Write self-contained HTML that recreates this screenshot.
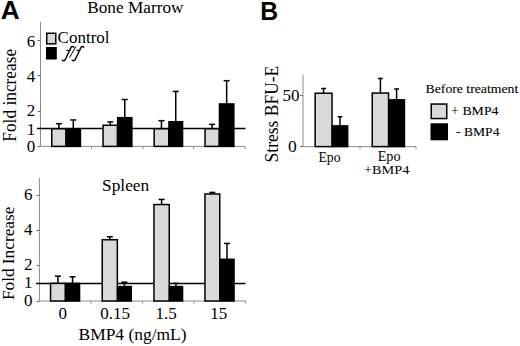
<!DOCTYPE html>
<html><head><meta charset="utf-8"><style>
html,body{margin:0;padding:0;background:#fff;}
body{width:520px;height:346px;overflow:hidden;font-family:"Liberation Serif", serif;}
svg{display:block;}
</style></head><body>
<svg width="520" height="346" viewBox="0 0 520 346">
<rect width="520" height="346" fill="#fff"/>
<line x1="40.50" y1="22.00" x2="40.50" y2="146.40" stroke="#8a8a8a" stroke-width="1"/>
<line x1="40.50" y1="146.40" x2="245.00" y2="146.40" stroke="#8a8a8a" stroke-width="1"/>
<line x1="37.50" y1="146.50" x2="40.50" y2="146.50" stroke="#6a6a6a" stroke-width="1"/>
<line x1="37.50" y1="128.50" x2="40.50" y2="128.50" stroke="#6a6a6a" stroke-width="1"/>
<line x1="37.50" y1="111.50" x2="40.50" y2="111.50" stroke="#6a6a6a" stroke-width="1"/>
<line x1="37.50" y1="75.50" x2="40.50" y2="75.50" stroke="#6a6a6a" stroke-width="1"/>
<line x1="37.50" y1="40.50" x2="40.50" y2="40.50" stroke="#6a6a6a" stroke-width="1"/>
<line x1="91.50" y1="146.40" x2="91.50" y2="148.90" stroke="#8a8a8a" stroke-width="1"/>
<line x1="143.00" y1="146.40" x2="143.00" y2="148.90" stroke="#8a8a8a" stroke-width="1"/>
<line x1="193.60" y1="146.40" x2="193.60" y2="148.90" stroke="#8a8a8a" stroke-width="1"/>
<line x1="245.00" y1="146.40" x2="245.00" y2="148.90" stroke="#8a8a8a" stroke-width="1"/>
<line x1="37.00" y1="128.58" x2="245.50" y2="128.58" stroke="#000" stroke-width="1.5"/>
<line x1="58.85" y1="128.78" x2="58.85" y2="123.67" stroke="#000" stroke-width="1.5"/>
<line x1="55.85" y1="123.67" x2="61.85" y2="123.67" stroke="#000" stroke-width="1.5"/>
<line x1="73.30" y1="128.78" x2="73.30" y2="119.97" stroke="#000" stroke-width="1.5"/>
<line x1="70.30" y1="119.97" x2="76.30" y2="119.97" stroke="#000" stroke-width="1.5"/>
<rect x="51.75" y="128.78" width="14.20" height="17.62" fill="#d9d9d9" stroke="#000" stroke-width="1.5"/>
<rect x="65.40" y="128.03" width="15.80" height="19.12" fill="#000"/>
<line x1="110.25" y1="125.26" x2="110.25" y2="121.91" stroke="#000" stroke-width="1.5"/>
<line x1="107.25" y1="121.91" x2="113.25" y2="121.91" stroke="#000" stroke-width="1.5"/>
<line x1="124.75" y1="117.68" x2="124.75" y2="99.53" stroke="#000" stroke-width="1.5"/>
<line x1="121.75" y1="99.53" x2="127.75" y2="99.53" stroke="#000" stroke-width="1.5"/>
<rect x="103.05" y="125.26" width="14.40" height="21.14" fill="#d9d9d9" stroke="#000" stroke-width="1.5"/>
<rect x="116.90" y="116.93" width="15.70" height="30.22" fill="#000"/>
<line x1="161.45" y1="128.78" x2="161.45" y2="120.67" stroke="#000" stroke-width="1.5"/>
<line x1="158.45" y1="120.67" x2="164.45" y2="120.67" stroke="#000" stroke-width="1.5"/>
<line x1="175.75" y1="121.73" x2="175.75" y2="91.43" stroke="#000" stroke-width="1.5"/>
<line x1="172.75" y1="91.43" x2="178.75" y2="91.43" stroke="#000" stroke-width="1.5"/>
<rect x="154.15" y="128.78" width="14.60" height="17.62" fill="#d9d9d9" stroke="#000" stroke-width="1.5"/>
<rect x="168.20" y="120.98" width="15.10" height="26.17" fill="#000"/>
<line x1="212.15" y1="128.78" x2="212.15" y2="124.38" stroke="#000" stroke-width="1.5"/>
<line x1="209.15" y1="124.38" x2="215.15" y2="124.38" stroke="#000" stroke-width="1.5"/>
<line x1="226.65" y1="103.94" x2="226.65" y2="80.68" stroke="#000" stroke-width="1.5"/>
<line x1="223.65" y1="80.68" x2="229.65" y2="80.68" stroke="#000" stroke-width="1.5"/>
<rect x="205.05" y="128.78" width="14.20" height="17.62" fill="#d9d9d9" stroke="#000" stroke-width="1.5"/>
<rect x="218.70" y="103.19" width="15.90" height="43.96" fill="#000"/>
<line x1="39.40" y1="178.00" x2="39.40" y2="301.00" stroke="#8a8a8a" stroke-width="1"/>
<line x1="39.40" y1="301.00" x2="245.50" y2="301.00" stroke="#8a8a8a" stroke-width="1"/>
<line x1="36.40" y1="301.50" x2="39.40" y2="301.50" stroke="#6a6a6a" stroke-width="1"/>
<line x1="36.40" y1="283.50" x2="39.40" y2="283.50" stroke="#6a6a6a" stroke-width="1"/>
<line x1="36.40" y1="265.50" x2="39.40" y2="265.50" stroke="#6a6a6a" stroke-width="1"/>
<line x1="36.40" y1="230.50" x2="39.40" y2="230.50" stroke="#6a6a6a" stroke-width="1"/>
<line x1="36.40" y1="195.50" x2="39.40" y2="195.50" stroke="#6a6a6a" stroke-width="1"/>
<line x1="91.00" y1="301.00" x2="91.00" y2="303.50" stroke="#8a8a8a" stroke-width="1"/>
<line x1="142.60" y1="301.00" x2="142.60" y2="303.50" stroke="#8a8a8a" stroke-width="1"/>
<line x1="194.10" y1="301.00" x2="194.10" y2="303.50" stroke="#8a8a8a" stroke-width="1"/>
<line x1="245.50" y1="301.00" x2="245.50" y2="303.50" stroke="#8a8a8a" stroke-width="1"/>
<line x1="36.00" y1="283.40" x2="245.50" y2="283.40" stroke="#000" stroke-width="1.5"/>
<line x1="57.95" y1="283.40" x2="57.95" y2="276.18" stroke="#000" stroke-width="1.5"/>
<line x1="54.95" y1="276.18" x2="60.95" y2="276.18" stroke="#000" stroke-width="1.5"/>
<line x1="72.55" y1="283.40" x2="72.55" y2="276.80" stroke="#000" stroke-width="1.5"/>
<line x1="69.55" y1="276.80" x2="75.55" y2="276.80" stroke="#000" stroke-width="1.5"/>
<rect x="50.55" y="283.40" width="14.80" height="17.60" fill="#d9d9d9" stroke="#000" stroke-width="1.5"/>
<rect x="64.80" y="282.65" width="15.50" height="19.10" fill="#000"/>
<line x1="109.80" y1="239.75" x2="109.80" y2="236.76" stroke="#000" stroke-width="1.5"/>
<line x1="106.80" y1="236.76" x2="112.80" y2="236.76" stroke="#000" stroke-width="1.5"/>
<line x1="124.40" y1="286.57" x2="124.40" y2="282.17" stroke="#000" stroke-width="1.5"/>
<line x1="121.40" y1="282.17" x2="127.40" y2="282.17" stroke="#000" stroke-width="1.5"/>
<rect x="102.25" y="239.75" width="15.10" height="61.25" fill="#d9d9d9" stroke="#000" stroke-width="1.5"/>
<rect x="116.80" y="285.82" width="15.20" height="15.93" fill="#000"/>
<line x1="161.60" y1="204.55" x2="161.60" y2="199.45" stroke="#000" stroke-width="1.5"/>
<line x1="158.60" y1="199.45" x2="164.60" y2="199.45" stroke="#000" stroke-width="1.5"/>
<line x1="176.00" y1="286.57" x2="176.00" y2="283.40" stroke="#000" stroke-width="1.5"/>
<line x1="173.00" y1="283.40" x2="179.00" y2="283.40" stroke="#000" stroke-width="1.5"/>
<rect x="153.95" y="204.55" width="15.30" height="96.45" fill="#d9d9d9" stroke="#000" stroke-width="1.5"/>
<rect x="168.70" y="285.82" width="14.60" height="15.93" fill="#000"/>
<line x1="212.35" y1="193.99" x2="212.35" y2="192.41" stroke="#000" stroke-width="1.5"/>
<line x1="209.35" y1="192.41" x2="215.35" y2="192.41" stroke="#000" stroke-width="1.5"/>
<line x1="227.00" y1="259.29" x2="227.00" y2="243.45" stroke="#000" stroke-width="1.5"/>
<line x1="224.00" y1="243.45" x2="230.00" y2="243.45" stroke="#000" stroke-width="1.5"/>
<rect x="204.95" y="193.99" width="14.80" height="107.01" fill="#d9d9d9" stroke="#000" stroke-width="1.5"/>
<rect x="219.20" y="258.54" width="15.60" height="43.21" fill="#000"/>
<line x1="303.00" y1="74.70" x2="303.00" y2="146.60" stroke="#8a8a8a" stroke-width="1"/>
<line x1="303.00" y1="146.60" x2="416.00" y2="146.60" stroke="#8a8a8a" stroke-width="1"/>
<line x1="300.00" y1="146.50" x2="303.00" y2="146.50" stroke="#6a6a6a" stroke-width="1"/>
<line x1="300.00" y1="95.50" x2="303.00" y2="95.50" stroke="#6a6a6a" stroke-width="1"/>
<line x1="360.00" y1="146.60" x2="360.00" y2="149.10" stroke="#8a8a8a" stroke-width="1"/>
<line x1="416.00" y1="146.60" x2="416.00" y2="149.10" stroke="#8a8a8a" stroke-width="1"/>
<line x1="323.60" y1="93.25" x2="323.60" y2="88.53" stroke="#000" stroke-width="1.5"/>
<line x1="321.20" y1="88.53" x2="326.00" y2="88.53" stroke="#000" stroke-width="1.5"/>
<line x1="339.95" y1="125.87" x2="339.95" y2="116.74" stroke="#000" stroke-width="1.5"/>
<line x1="337.55" y1="116.74" x2="342.35" y2="116.74" stroke="#000" stroke-width="1.5"/>
<rect x="315.15" y="93.25" width="16.90" height="53.35" fill="#d9d9d9" stroke="#000" stroke-width="1.5"/>
<rect x="331.50" y="125.12" width="16.90" height="22.23" fill="#000"/>
<line x1="380.40" y1="93.04" x2="380.40" y2="78.47" stroke="#000" stroke-width="1.5"/>
<line x1="378.00" y1="78.47" x2="382.80" y2="78.47" stroke="#000" stroke-width="1.5"/>
<line x1="396.60" y1="99.81" x2="396.60" y2="88.94" stroke="#000" stroke-width="1.5"/>
<line x1="394.20" y1="88.94" x2="399.00" y2="88.94" stroke="#000" stroke-width="1.5"/>
<rect x="372.25" y="93.04" width="16.30" height="53.56" fill="#d9d9d9" stroke="#000" stroke-width="1.5"/>
<rect x="388.00" y="99.06" width="17.20" height="48.29" fill="#000"/>
<text x="0" y="0" font-size="25" font-family="Liberation Sans" font-weight="bold" transform="translate(0.814,19.100) scale(1.0485,1.0319)">A</text>
<text x="0" y="0" font-size="25" font-family="Liberation Sans" font-weight="bold" transform="translate(260.267,19.800) scale(0.9902,1.0377)">B</text>
<text x="0" y="0" font-size="17" font-family="Liberation Serif" font-weight="normal" transform="translate(87.243,12.853) scale(1.0149,0.9867)">Bone Marrow</text>
<text x="0" y="0" font-size="17.5" font-family="Liberation Serif" font-weight="normal" transform="translate(102.064,190.729) scale(0.9891,0.9524)">Spleen</text>
<text x="0" y="0" font-size="17.5" font-family="Liberation Serif" font-weight="normal" transform="translate(57.570,43.159) scale(0.9733,0.9633)">Control</text>
<text x="0" y="0" font-size="17.5" font-family="Liberation Serif" font-weight="normal" transform="translate(78.501,340.162) scale(0.9981,0.9968)">BMP4 (ng/mL)</text>
<text x="0" y="0" font-size="13.5" font-family="Liberation Serif" font-weight="normal" transform="translate(425.591,92.900) scale(1.0177,0.9263)" stroke="#000" stroke-width="0.1">Before treatment</text>
<text x="0" y="0" font-size="13.8" font-family="Liberation Serif" font-weight="normal" transform="translate(462.399,115.100) scale(1.0014,0.9111)" stroke="#000" stroke-width="0.1">BMP4</text>
<text x="0" y="0" font-size="13.5" font-family="Liberation Serif" font-weight="normal" transform="translate(456.098,135.800) scale(1.0047,0.9829)" stroke="#000" stroke-width="0.1">- BMP4</text>
<text x="0" y="0" font-size="13.5" font-family="Liberation Serif" font-weight="normal" transform="translate(318.492,162.378) scale(1.0169,1.0261)">Epo</text>
<text x="0" y="0" font-size="13.5" font-family="Liberation Serif" font-weight="normal" transform="translate(377.675,160.626) scale(1.0506,1.0087)">Epo</text>
<text x="0" y="0" font-size="14" font-family="Liberation Serif" font-weight="normal" transform="translate(364.034,174.000) scale(1.0207,0.9081)">+BMP4</text>
<text x="0" y="0" font-size="17.3" font-family="Liberation Serif" font-weight="normal" transform="translate(15.641,141.702) rotate(-90) scale(1.0033,1.0367)">Fold increase</text>
<text x="0" y="0" font-size="17.4" font-family="Liberation Serif" font-weight="normal" transform="translate(14.249,300.096) rotate(-90) scale(0.9925,1.0041)">Fold Increase</text>
<text x="0" y="0" font-size="17.5" font-family="Liberation Serif" font-weight="normal" transform="translate(277.740,162.451) rotate(-90) scale(1.0011,1.0383)">Stress BFU-E</text>
<text x="35.3" y="152.0" font-size="17" text-anchor="end" font-family="Liberation Serif" font-weight="normal" font-style="normal" >0</text>
<text x="35.3" y="134.78" font-size="17" text-anchor="end" font-family="Liberation Serif" font-weight="normal" font-style="normal" >1</text>
<text x="35.3" y="116.36" font-size="17" text-anchor="end" font-family="Liberation Serif" font-weight="normal" font-style="normal" >2</text>
<text x="35.3" y="81.92" font-size="17" text-anchor="end" font-family="Liberation Serif" font-weight="normal" font-style="normal" >4</text>
<text x="35.3" y="46.68000000000001" font-size="17" text-anchor="end" font-family="Liberation Serif" font-weight="normal" font-style="normal" >6</text>
<text x="32.4" y="305.6" font-size="17" text-anchor="end" font-family="Liberation Serif" font-weight="normal" font-style="normal" >0</text>
<text x="32.4" y="288.0" font-size="17" text-anchor="end" font-family="Liberation Serif" font-weight="normal" font-style="normal" >1</text>
<text x="32.4" y="270.40000000000003" font-size="17" text-anchor="end" font-family="Liberation Serif" font-weight="normal" font-style="normal" >2</text>
<text x="32.4" y="235.2" font-size="17" text-anchor="end" font-family="Liberation Serif" font-weight="normal" font-style="normal" >4</text>
<text x="32.4" y="199.99999999999997" font-size="17" text-anchor="end" font-family="Liberation Serif" font-weight="normal" font-style="normal" >6</text>
<text x="296.8" y="151.9" font-size="17.5" text-anchor="end" font-family="Liberation Serif" font-weight="normal" font-style="normal" >0</text>
<text x="299.5" y="100.89999999999998" font-size="17" text-anchor="end" font-family="Liberation Serif" font-weight="normal" font-style="normal" >50</text>
<text x="62.7" y="319.3" font-size="17" text-anchor="middle" font-family="Liberation Serif" font-weight="normal" font-style="normal" >0</text>
<text x="115" y="319.3" font-size="17" text-anchor="middle" font-family="Liberation Serif" font-weight="normal" font-style="normal" >0.15</text>
<text x="166.2" y="319.3" font-size="17" text-anchor="middle" font-family="Liberation Serif" font-weight="normal" font-style="normal" >1.5</text>
<text x="218.8" y="319.3" font-size="17" text-anchor="middle" font-family="Liberation Serif" font-weight="normal" font-style="normal" >15</text>
<rect x="46.75" y="33.25" width="9.00" height="10.60" fill="#d9d9d9" stroke="#000" stroke-width="1.5"/>
<rect x="46.00" y="47.00" width="10.80" height="12.50" fill="#000"/>
<path d="M73.8,47.2 C73.2,46.2 71.6,46.3 70.9,47.8 L65.6,59.0 C65,60.5 63.6,61.2 62.3,60.2" fill="none" stroke="#000" stroke-width="1.45" stroke-linecap="round"/>
<line x1="66.4" y1="50.4" x2="70.4" y2="50.4" stroke="#000" stroke-width="1.1"/>
<path d="M83.7,47.2 C83.10000000000001,46.2 81.5,46.3 80.80000000000001,47.8 L75.5,59.0 C74.9,60.5 73.5,61.2 72.2,60.2" fill="none" stroke="#000" stroke-width="1.45" stroke-linecap="round"/>
<line x1="76.30000000000001" y1="50.4" x2="80.30000000000001" y2="50.4" stroke="#000" stroke-width="1.1"/>
<line x1="76.00" y1="46.30" x2="69.50" y2="57.60" stroke="#000" stroke-width="1.0"/>
<rect x="431.25" y="104.05" width="15.50" height="14.50" fill="#d9d9d9" stroke="#000" stroke-width="1.5"/>
<rect x="430.50" y="123.30" width="17.50" height="17.00" fill="#000"/>
<text x="451.0" y="115.0" font-size="13.8" text-anchor="start" font-family="Liberation Serif" font-weight="normal" font-style="normal" >+</text>
</svg>
</body></html>
